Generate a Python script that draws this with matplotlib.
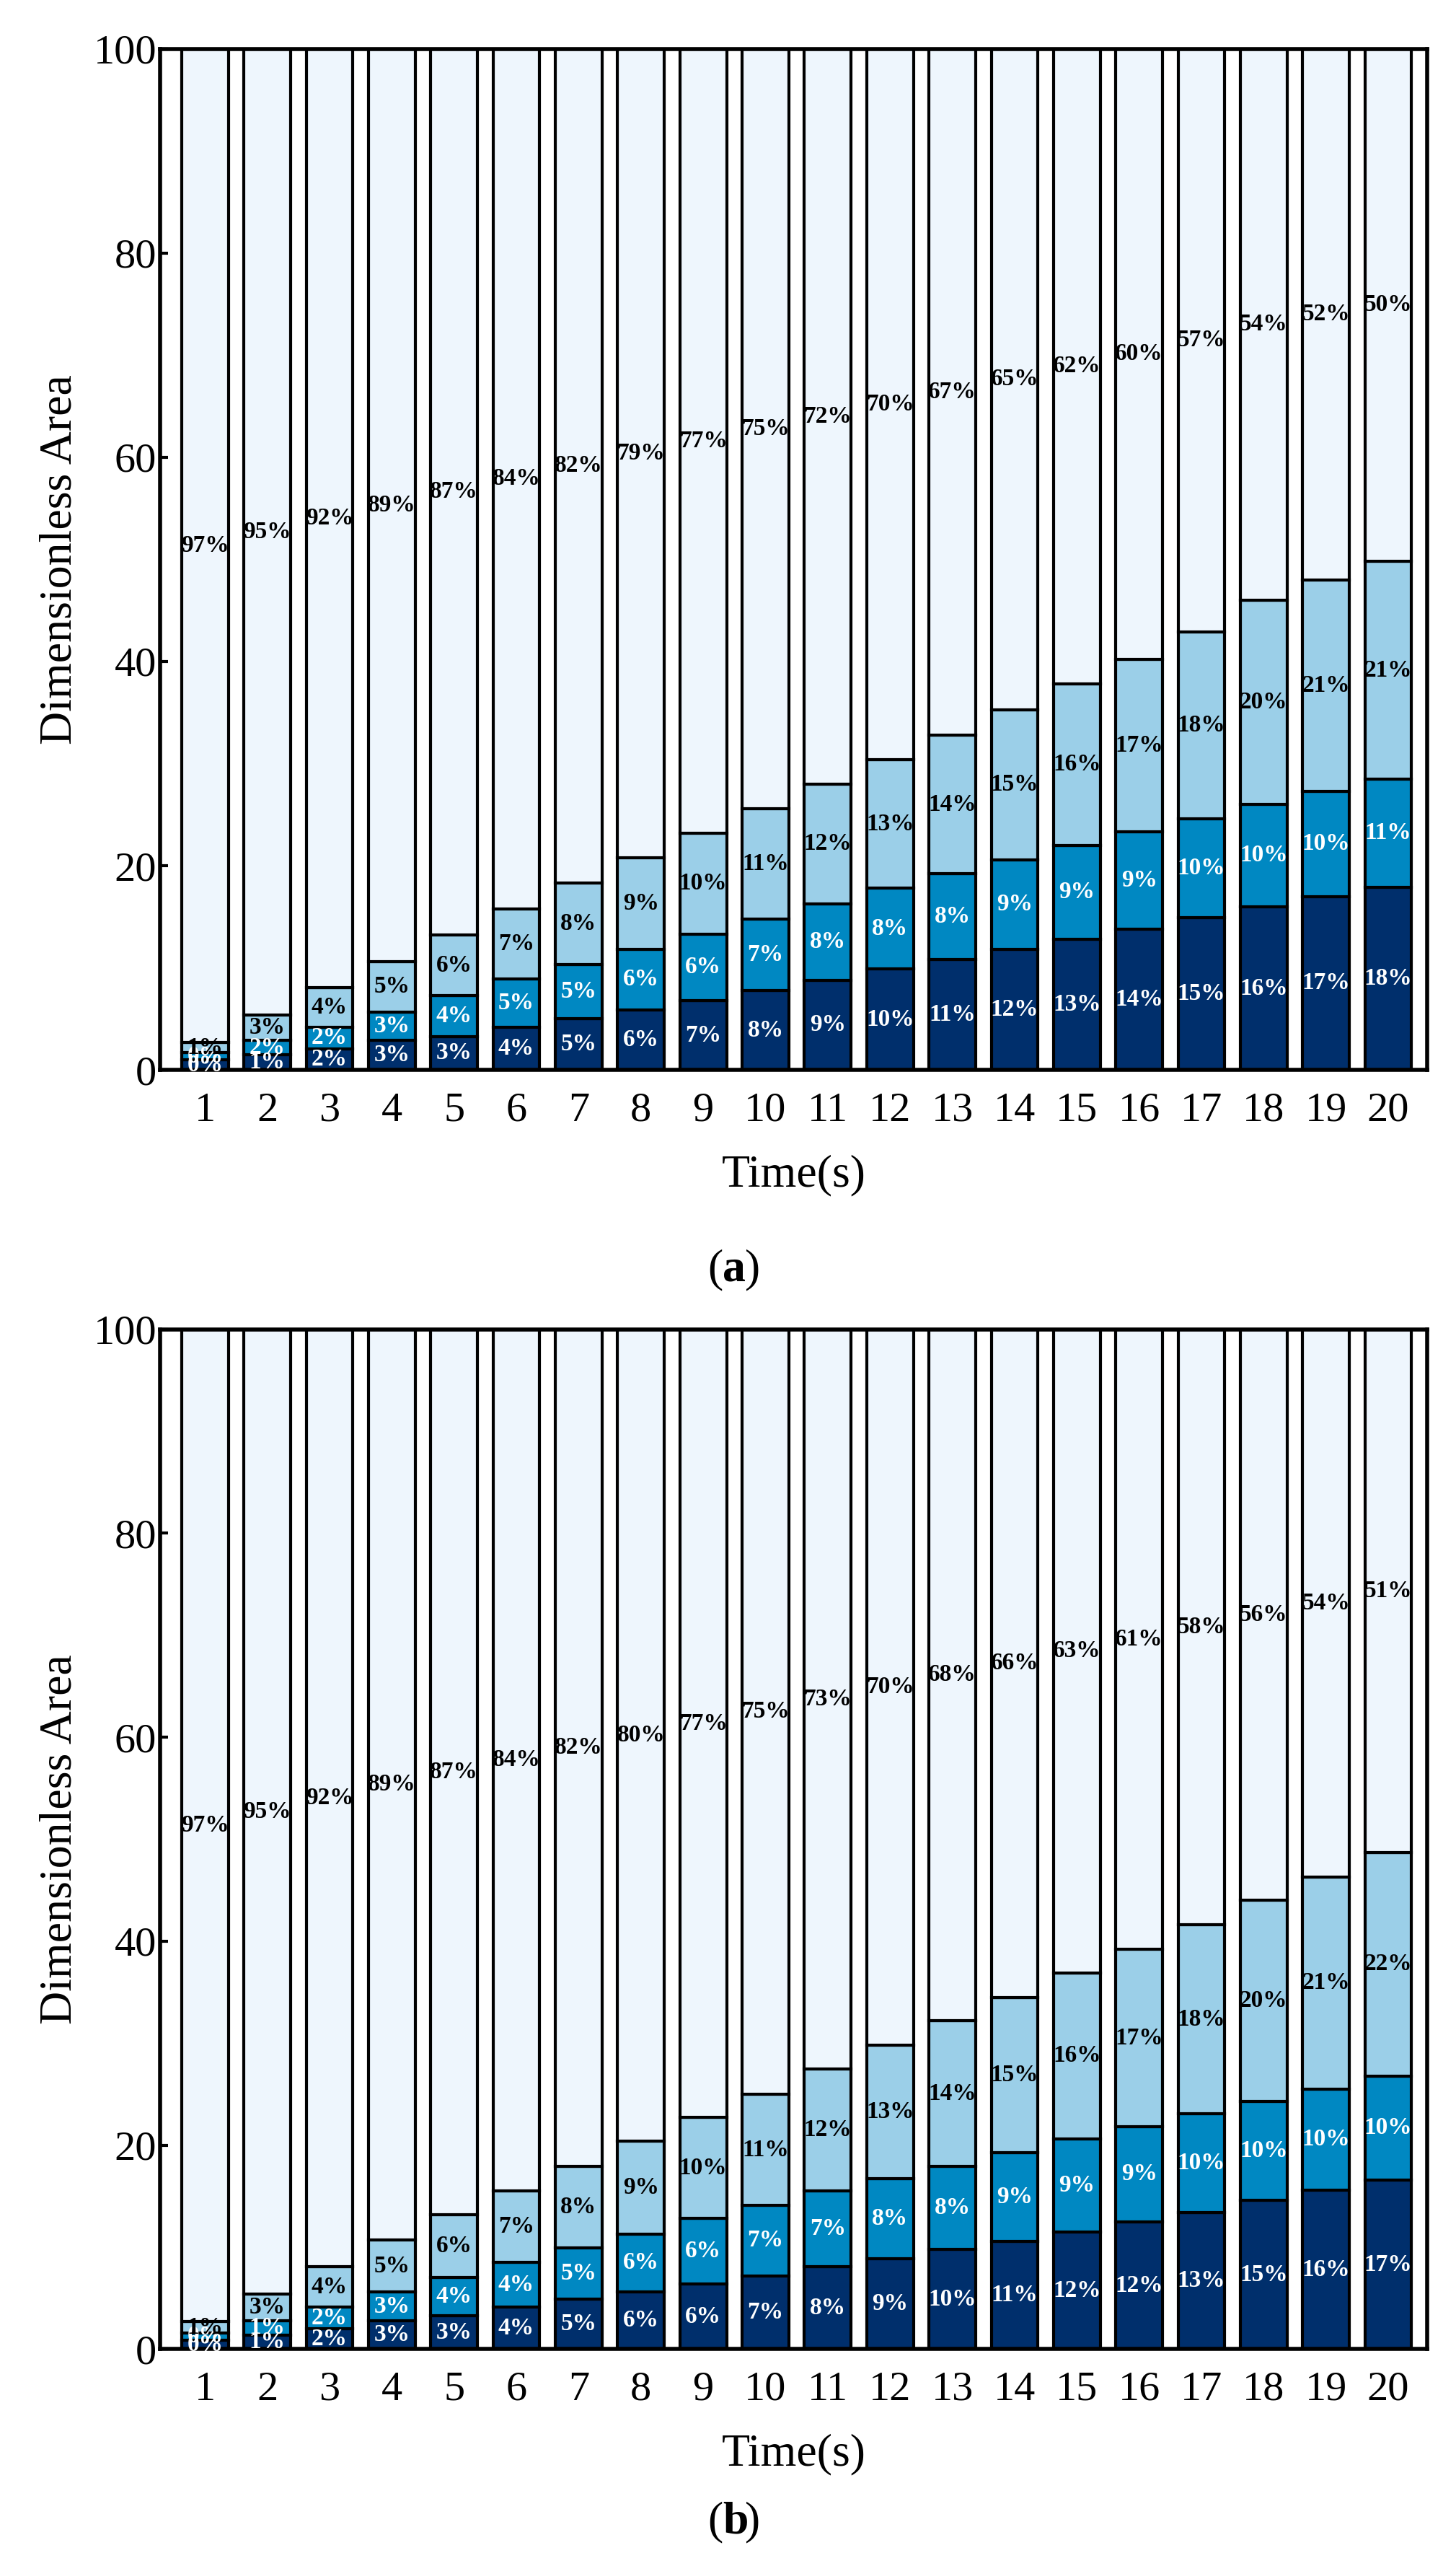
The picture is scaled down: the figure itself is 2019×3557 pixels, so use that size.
import matplotlib
matplotlib.use("Agg")
import matplotlib.pyplot as plt
from matplotlib import font_manager
import numpy as np

times = list(range(1, 21))
# cumulative tops (segment 1, 2, 3)
a_c1 = [1.0,1.5,2.1,2.9,3.3,4.2,5.0,5.9,6.8,7.8,8.8,9.9,10.8,11.8,12.8,13.8,14.9,16.0,17.0,17.9]
a_c2 = [1.7,2.9,4.2,5.7,7.3,8.9,10.3,11.8,13.3,14.8,16.3,17.8,19.2,20.6,22.0,23.3,24.6,26.0,27.3,28.5]
a_c3 = [2.7,5.4,8.1,10.6,13.2,15.8,18.3,20.8,23.2,25.6,28.0,30.4,32.8,35.3,37.8,40.2,42.9,46.0,48.0,49.8]
a_l1 = [0,1,2,3,3,4,5,6,7,8,9,10,11,12,13,14,15,16,17,18]
a_l2 = [0,2,2,3,4,5,5,6,6,7,8,8,8,9,9,9,10,10,10,11]
a_l3 = [1,3,4,5,6,7,8,9,10,11,12,13,14,15,16,17,18,20,21,21]
a_l4 = [97,95,92,89,87,84,82,79,77,75,72,70,67,65,62,60,57,54,52,50]

b_c1 = [0.9,1.4,2.0,2.8,3.3,4.1,4.9,5.6,6.4,7.2,8.1,8.9,9.8,10.6,11.5,12.5,13.4,14.6,15.6,16.6]
b_c2 = [1.6,2.8,4.1,5.6,7.0,8.5,9.9,11.3,12.8,14.1,15.5,16.7,17.9,19.3,20.6,21.8,23.1,24.3,25.5,26.8]
b_c3 = [2.7,5.4,8.1,10.7,13.2,15.5,17.9,20.4,22.7,25.0,27.5,29.8,32.2,34.5,36.9,39.2,41.6,44.0,46.3,48.7]
b_l1 = [0,1,2,3,3,4,5,6,6,7,8,9,10,11,12,12,13,15,16,17]
b_l2 = [0,1,2,3,4,4,5,6,6,7,7,8,8,9,9,9,10,10,10,10]
b_l3 = [1,3,4,5,6,7,8,9,10,11,12,13,14,15,16,17,18,20,21,22]
b_l4 = [97,95,92,89,87,84,82,80,77,75,73,70,68,66,63,61,58,56,54,51]

colors = ["#002f6c", "#0088c2", "#9bcfe8", "#eef6fd"]
txtcol = ["white", "white", "black", "black"]

avail = {f.name for f in font_manager.fontManager.ttflist}
serif = [n for n in ["Times New Roman", "Liberation Serif", "Nimbus Roman", "DejaVu Serif"] if n in avail]
plt.rcParams["font.family"] = "serif"
plt.rcParams["font.serif"] = serif + ["DejaVu Serif"]
fig = plt.figure(figsize=(20.19, 35.57), dpi=100)

def panel(rect, c1, c2, c3, labs):
    ax = fig.add_axes(rect)
    x = np.array(times)
    bottoms = [np.zeros(20), np.array(c1), np.array(c2), np.array(c3)]
    tops = [np.array(c1), np.array(c2), np.array(c3), np.full(20, 100.0)]
    for k in range(4):
        h = tops[k] - bottoms[k]
        ax.bar(x, h, bottom=bottoms[k], width=0.75, color=colors[k],
               edgecolor="black", linewidth=3, zorder=2)
        for i in range(20):
            ax.text(x[i], bottoms[k][i] + h[i] / 2, f"{labs[k][i]}%",
                    ha="center", va="center", fontsize=24, fontweight="bold",
                    color=txtcol[k], zorder=3)
    ax.set_xlim(0.28, 20.62)
    ax.set_ylim(0, 100)
    ax.set_xticks(times)
    ax.set_yticks([0, 20, 40, 60, 80, 100])
    ax.tick_params(axis="both", labelsize=42, direction="in", width=3, length=8)
    ax.tick_params(axis="x", length=0, pad=22)
    for s in ax.spines.values():
        s.set_linewidth(4)
    ax.set_xlabel("Time(s)", fontsize=46, labelpad=25)
    ax.set_ylabel("Dimensionless Area", fontsize=46, labelpad=12)
    return ax

panel([0.110, 0.583, 0.870, 0.398], a_c1, a_c2, a_c3, [a_l1, a_l2, a_l3, a_l4])
panel([0.110, 0.0845, 0.870, 0.3975], b_c1, b_c2, b_c3, [b_l1, b_l2, b_l3, b_l4])
for tag, ty in [("a", 0.505), ("b", 0.017)]:
    fig.text(0.4965, ty, "(", fontsize=46, ha="right", va="center")
    fig.text(0.4965, ty, tag, fontsize=46, ha="left", va="center", fontweight="bold")
    fig.text(0.5115, ty, ")", fontsize=46, ha="left", va="center")
fig.savefig("out.png", dpi=100)
